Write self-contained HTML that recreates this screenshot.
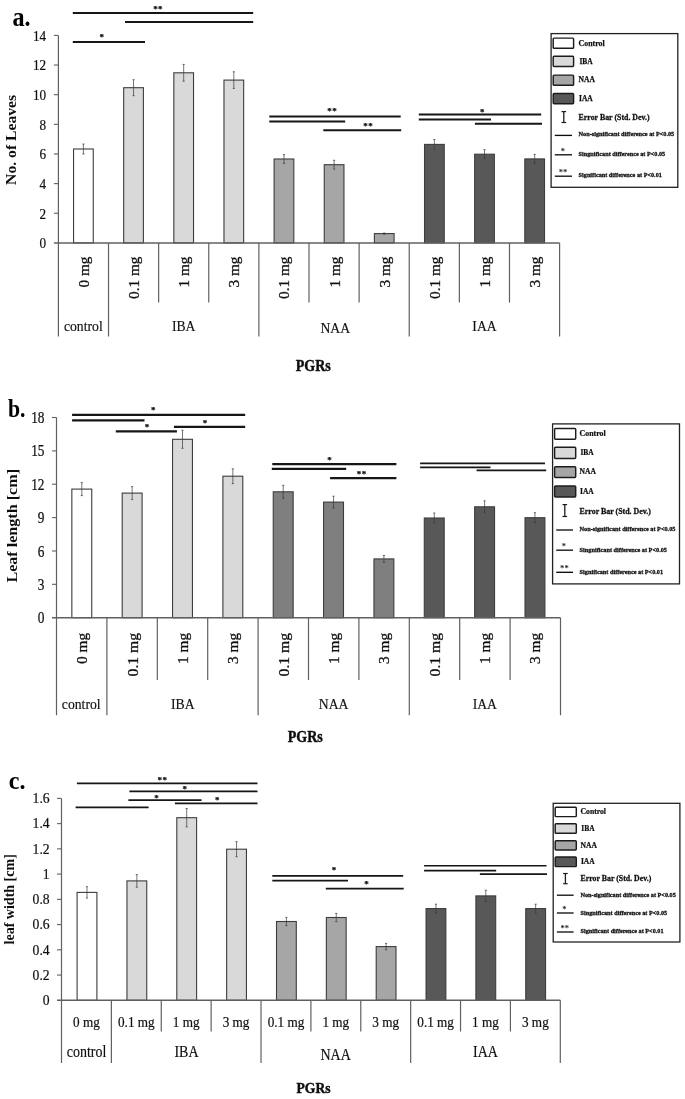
<!DOCTYPE html>
<html><head><meta charset="utf-8"><title>Figure</title>
<style>html,body{margin:0;padding:0;background:#fff}svg{display:block}text{font-family:'Liberation Serif', 'DejaVu Serif', serif}</style>
</head><body>
<svg width="685" height="1099" viewBox="0 0 685 1099">
<defs><filter id="soft" x="0" y="0" width="685" height="1099" filterUnits="userSpaceOnUse"><feGaussianBlur stdDeviation="0.38"/></filter></defs>
<rect x="0" y="0" width="685" height="1099" fill="#fff"/>
<g filter="url(#soft)">
<rect x="0" y="0" width="685" height="1099" fill="#fff"/>
<rect x="73.55" y="149.00" width="19.70" height="93.90" fill="#ffffff" stroke="#3c3c3c" stroke-width="1.1"/>
<line x1="83.40" y1="144.00" x2="83.40" y2="154.00" stroke="#3a3a3a" stroke-width="0.7" stroke-linecap="butt"/>
<line x1="82.30" y1="144.00" x2="84.50" y2="144.00" stroke="#3a3a3a" stroke-width="0.7" stroke-linecap="butt"/>
<line x1="82.30" y1="154.00" x2="84.50" y2="154.00" stroke="#3a3a3a" stroke-width="0.7" stroke-linecap="butt"/>
<rect x="123.69" y="87.70" width="19.70" height="155.20" fill="#d9d9d9" stroke="#3c3c3c" stroke-width="1.1"/>
<line x1="133.54" y1="79.70" x2="133.54" y2="95.70" stroke="#3a3a3a" stroke-width="0.7" stroke-linecap="butt"/>
<line x1="132.44" y1="79.70" x2="134.64" y2="79.70" stroke="#3a3a3a" stroke-width="0.7" stroke-linecap="butt"/>
<line x1="132.44" y1="95.70" x2="134.64" y2="95.70" stroke="#3a3a3a" stroke-width="0.7" stroke-linecap="butt"/>
<rect x="173.83" y="72.80" width="19.70" height="170.10" fill="#d9d9d9" stroke="#3c3c3c" stroke-width="1.1"/>
<line x1="183.68" y1="64.40" x2="183.68" y2="81.20" stroke="#3a3a3a" stroke-width="0.7" stroke-linecap="butt"/>
<line x1="182.58" y1="64.40" x2="184.78" y2="64.40" stroke="#3a3a3a" stroke-width="0.7" stroke-linecap="butt"/>
<line x1="182.58" y1="81.20" x2="184.78" y2="81.20" stroke="#3a3a3a" stroke-width="0.7" stroke-linecap="butt"/>
<rect x="223.97" y="80.10" width="19.70" height="162.80" fill="#d9d9d9" stroke="#3c3c3c" stroke-width="1.1"/>
<line x1="233.82" y1="71.80" x2="233.82" y2="88.40" stroke="#3a3a3a" stroke-width="0.7" stroke-linecap="butt"/>
<line x1="232.72" y1="71.80" x2="234.92" y2="71.80" stroke="#3a3a3a" stroke-width="0.7" stroke-linecap="butt"/>
<line x1="232.72" y1="88.40" x2="234.92" y2="88.40" stroke="#3a3a3a" stroke-width="0.7" stroke-linecap="butt"/>
<rect x="274.11" y="159.00" width="19.70" height="83.90" fill="#a6a6a6" stroke="#3c3c3c" stroke-width="1.1"/>
<line x1="283.96" y1="154.60" x2="283.96" y2="163.40" stroke="#3a3a3a" stroke-width="0.7" stroke-linecap="butt"/>
<line x1="282.86" y1="154.60" x2="285.06" y2="154.60" stroke="#3a3a3a" stroke-width="0.7" stroke-linecap="butt"/>
<line x1="282.86" y1="163.40" x2="285.06" y2="163.40" stroke="#3a3a3a" stroke-width="0.7" stroke-linecap="butt"/>
<rect x="324.25" y="164.70" width="19.70" height="78.20" fill="#a6a6a6" stroke="#3c3c3c" stroke-width="1.1"/>
<line x1="334.10" y1="160.30" x2="334.10" y2="169.10" stroke="#3a3a3a" stroke-width="0.7" stroke-linecap="butt"/>
<line x1="333.00" y1="160.30" x2="335.20" y2="160.30" stroke="#3a3a3a" stroke-width="0.7" stroke-linecap="butt"/>
<line x1="333.00" y1="169.10" x2="335.20" y2="169.10" stroke="#3a3a3a" stroke-width="0.7" stroke-linecap="butt"/>
<rect x="374.39" y="233.60" width="19.70" height="9.30" fill="#a6a6a6" stroke="#3c3c3c" stroke-width="1.1"/>
<line x1="384.24" y1="233.00" x2="384.24" y2="234.20" stroke="#3a3a3a" stroke-width="0.7" stroke-linecap="butt"/>
<line x1="383.14" y1="233.00" x2="385.34" y2="233.00" stroke="#3a3a3a" stroke-width="0.7" stroke-linecap="butt"/>
<line x1="383.14" y1="234.20" x2="385.34" y2="234.20" stroke="#3a3a3a" stroke-width="0.7" stroke-linecap="butt"/>
<rect x="424.53" y="144.40" width="19.70" height="98.50" fill="#595959" stroke="#3c3c3c" stroke-width="1.1"/>
<line x1="434.38" y1="139.50" x2="434.38" y2="149.30" stroke="#3a3a3a" stroke-width="0.7" stroke-linecap="butt"/>
<line x1="433.28" y1="139.50" x2="435.48" y2="139.50" stroke="#3a3a3a" stroke-width="0.7" stroke-linecap="butt"/>
<line x1="433.28" y1="149.30" x2="435.48" y2="149.30" stroke="#3a3a3a" stroke-width="0.7" stroke-linecap="butt"/>
<rect x="474.67" y="154.20" width="19.70" height="88.70" fill="#595959" stroke="#3c3c3c" stroke-width="1.1"/>
<line x1="484.52" y1="149.70" x2="484.52" y2="158.70" stroke="#3a3a3a" stroke-width="0.7" stroke-linecap="butt"/>
<line x1="483.42" y1="149.70" x2="485.62" y2="149.70" stroke="#3a3a3a" stroke-width="0.7" stroke-linecap="butt"/>
<line x1="483.42" y1="158.70" x2="485.62" y2="158.70" stroke="#3a3a3a" stroke-width="0.7" stroke-linecap="butt"/>
<rect x="524.81" y="158.90" width="19.70" height="84.00" fill="#595959" stroke="#3c3c3c" stroke-width="1.1"/>
<line x1="534.66" y1="154.40" x2="534.66" y2="163.40" stroke="#3a3a3a" stroke-width="0.7" stroke-linecap="butt"/>
<line x1="533.56" y1="154.40" x2="535.76" y2="154.40" stroke="#3a3a3a" stroke-width="0.7" stroke-linecap="butt"/>
<line x1="533.56" y1="163.40" x2="535.76" y2="163.40" stroke="#3a3a3a" stroke-width="0.7" stroke-linecap="butt"/>
<line x1="58.40" y1="35.40" x2="58.40" y2="336.50" stroke="#606060" stroke-width="1.2" stroke-linecap="butt"/>
<line x1="53.90" y1="242.90" x2="559.60" y2="242.90" stroke="#606060" stroke-width="1.5" stroke-linecap="butt"/>
<text transform="translate(46.10,248.20) scale(1,1.18)" font-size="13.2" text-anchor="end" fill="#111" stroke="#111" stroke-width="0.2">0</text>
<line x1="53.90" y1="213.26" x2="58.40" y2="213.26" stroke="#606060" stroke-width="1.1" stroke-linecap="butt"/>
<text transform="translate(46.10,218.56) scale(1,1.18)" font-size="13.2" text-anchor="end" fill="#111" stroke="#111" stroke-width="0.2">2</text>
<line x1="53.90" y1="183.61" x2="58.40" y2="183.61" stroke="#606060" stroke-width="1.1" stroke-linecap="butt"/>
<text transform="translate(46.10,188.91) scale(1,1.18)" font-size="13.2" text-anchor="end" fill="#111" stroke="#111" stroke-width="0.2">4</text>
<line x1="53.90" y1="153.97" x2="58.40" y2="153.97" stroke="#606060" stroke-width="1.1" stroke-linecap="butt"/>
<text transform="translate(46.10,159.27) scale(1,1.18)" font-size="13.2" text-anchor="end" fill="#111" stroke="#111" stroke-width="0.2">6</text>
<line x1="53.90" y1="124.33" x2="58.40" y2="124.33" stroke="#606060" stroke-width="1.1" stroke-linecap="butt"/>
<text transform="translate(46.10,129.63) scale(1,1.18)" font-size="13.2" text-anchor="end" fill="#111" stroke="#111" stroke-width="0.2">8</text>
<line x1="53.90" y1="94.69" x2="58.40" y2="94.69" stroke="#606060" stroke-width="1.1" stroke-linecap="butt"/>
<text transform="translate(46.10,99.99) scale(1,1.18)" font-size="13.2" text-anchor="end" fill="#111" stroke="#111" stroke-width="0.2">10</text>
<line x1="53.90" y1="65.04" x2="58.40" y2="65.04" stroke="#606060" stroke-width="1.1" stroke-linecap="butt"/>
<text transform="translate(46.10,70.34) scale(1,1.18)" font-size="13.2" text-anchor="end" fill="#111" stroke="#111" stroke-width="0.2">12</text>
<line x1="53.90" y1="35.40" x2="58.40" y2="35.40" stroke="#606060" stroke-width="1.1" stroke-linecap="butt"/>
<text transform="translate(46.10,40.70) scale(1,1.18)" font-size="13.2" text-anchor="end" fill="#111" stroke="#111" stroke-width="0.2">14</text>
<line x1="108.52" y1="242.90" x2="108.52" y2="336.50" stroke="#606060" stroke-width="1.2" stroke-linecap="butt"/>
<line x1="158.64" y1="242.90" x2="158.64" y2="302.60" stroke="#606060" stroke-width="1.2" stroke-linecap="butt"/>
<line x1="208.76" y1="242.90" x2="208.76" y2="302.60" stroke="#606060" stroke-width="1.2" stroke-linecap="butt"/>
<line x1="258.88" y1="242.90" x2="258.88" y2="336.50" stroke="#606060" stroke-width="1.2" stroke-linecap="butt"/>
<line x1="309.00" y1="242.90" x2="309.00" y2="302.60" stroke="#606060" stroke-width="1.2" stroke-linecap="butt"/>
<line x1="359.12" y1="242.90" x2="359.12" y2="302.60" stroke="#606060" stroke-width="1.2" stroke-linecap="butt"/>
<line x1="409.24" y1="242.90" x2="409.24" y2="336.50" stroke="#606060" stroke-width="1.2" stroke-linecap="butt"/>
<line x1="459.36" y1="242.90" x2="459.36" y2="302.60" stroke="#606060" stroke-width="1.2" stroke-linecap="butt"/>
<line x1="509.48" y1="242.90" x2="509.48" y2="302.60" stroke="#606060" stroke-width="1.2" stroke-linecap="butt"/>
<line x1="559.60" y1="242.90" x2="559.60" y2="336.50" stroke="#606060" stroke-width="1.2" stroke-linecap="butt"/>
<text transform="translate(88.90,256.60) rotate(-90)" font-size="14" text-anchor="end" textLength="30.90" lengthAdjust="spacingAndGlyphs" fill="#111" stroke="#111" stroke-width="0.3">0 mg</text>
<text transform="translate(139.04,256.60) rotate(-90)" font-size="14" text-anchor="end" textLength="42.40" lengthAdjust="spacingAndGlyphs" fill="#111" stroke="#111" stroke-width="0.3">0.1 mg</text>
<text transform="translate(189.18,256.60) rotate(-90)" font-size="14" text-anchor="end" textLength="30.90" lengthAdjust="spacingAndGlyphs" fill="#111" stroke="#111" stroke-width="0.3">1 mg</text>
<text transform="translate(239.32,256.60) rotate(-90)" font-size="14" text-anchor="end" textLength="30.90" lengthAdjust="spacingAndGlyphs" fill="#111" stroke="#111" stroke-width="0.3">3 mg</text>
<text transform="translate(289.46,256.60) rotate(-90)" font-size="14" text-anchor="end" textLength="42.40" lengthAdjust="spacingAndGlyphs" fill="#111" stroke="#111" stroke-width="0.3">0.1 mg</text>
<text transform="translate(339.60,256.60) rotate(-90)" font-size="14" text-anchor="end" textLength="30.90" lengthAdjust="spacingAndGlyphs" fill="#111" stroke="#111" stroke-width="0.3">1 mg</text>
<text transform="translate(389.74,256.60) rotate(-90)" font-size="14" text-anchor="end" textLength="30.90" lengthAdjust="spacingAndGlyphs" fill="#111" stroke="#111" stroke-width="0.3">3 mg</text>
<text transform="translate(439.88,256.60) rotate(-90)" font-size="14" text-anchor="end" textLength="42.40" lengthAdjust="spacingAndGlyphs" fill="#111" stroke="#111" stroke-width="0.3">0.1 mg</text>
<text transform="translate(490.02,256.60) rotate(-90)" font-size="14" text-anchor="end" textLength="30.90" lengthAdjust="spacingAndGlyphs" fill="#111" stroke="#111" stroke-width="0.3">1 mg</text>
<text transform="translate(540.16,256.60) rotate(-90)" font-size="14" text-anchor="end" textLength="30.90" lengthAdjust="spacingAndGlyphs" fill="#111" stroke="#111" stroke-width="0.3">3 mg</text>
<text transform="translate(83.30,331.00) scale(1,1.12)" font-size="13.7" text-anchor="middle" fill="#111" stroke="#111" stroke-width="0.15">control</text>
<text transform="translate(183.70,331.00) scale(1,1.12)" font-size="13.7" text-anchor="middle" fill="#111" stroke="#111" stroke-width="0.15">IBA</text>
<text transform="translate(335.20,333.30) scale(1,1.12)" font-size="13.7" text-anchor="middle" fill="#111" stroke="#111" stroke-width="0.15">NAA</text>
<text transform="translate(484.50,330.80) scale(1,1.12)" font-size="13.7" text-anchor="middle" fill="#111" stroke="#111" stroke-width="0.15">IAA</text>
<text transform="translate(313.30,370.70) scale(1,1.15)" font-size="14" text-anchor="middle" font-weight="bold" fill="#111" stroke="#111" stroke-width="0.4">PGRs</text>
<text transform="translate(15.80,139.90) rotate(-90)" font-size="15" text-anchor="middle" font-weight="bold" textLength="90.00" lengthAdjust="spacingAndGlyphs" fill="#111">No. of Leaves</text>
<text transform="translate(12.40,26.20) scale(1,1.11)" font-size="24.2" text-anchor="start" font-weight="bold" fill="#000">a.</text>
<line x1="72.80" y1="13.10" x2="253.20" y2="13.10" stroke="#141414" stroke-width="2.0" stroke-linecap="butt"/>
<line x1="125.00" y1="21.90" x2="253.20" y2="21.90" stroke="#141414" stroke-width="2.0" stroke-linecap="butt"/>
<line x1="72.80" y1="42.00" x2="145.00" y2="42.00" stroke="#141414" stroke-width="2.0" stroke-linecap="butt"/>
<line x1="269.30" y1="116.40" x2="400.70" y2="116.40" stroke="#141414" stroke-width="2.0" stroke-linecap="butt"/>
<line x1="269.30" y1="121.50" x2="345.20" y2="121.50" stroke="#141414" stroke-width="2.0" stroke-linecap="butt"/>
<line x1="323.30" y1="130.30" x2="401.20" y2="130.30" stroke="#141414" stroke-width="2.0" stroke-linecap="butt"/>
<line x1="418.80" y1="114.60" x2="541.20" y2="114.60" stroke="#141414" stroke-width="2.0" stroke-linecap="butt"/>
<line x1="418.80" y1="119.60" x2="491.00" y2="119.60" stroke="#141414" stroke-width="2.0" stroke-linecap="butt"/>
<line x1="474.90" y1="123.70" x2="542.00" y2="123.70" stroke="#141414" stroke-width="2.0" stroke-linecap="butt"/>
<text transform="translate(158.10,12.40)" font-size="9" text-anchor="middle" font-weight="bold" fill="#111" letter-spacing="0.4" stroke="#111" stroke-width="0.25">**</text>
<text transform="translate(102.00,39.60)" font-size="9" text-anchor="middle" font-weight="bold" fill="#111" letter-spacing="0.4" stroke="#111" stroke-width="0.25">*</text>
<text transform="translate(332.20,114.10)" font-size="9" text-anchor="middle" font-weight="bold" fill="#111" letter-spacing="0.4" stroke="#111" stroke-width="0.25">**</text>
<text transform="translate(368.20,128.80)" font-size="9" text-anchor="middle" font-weight="bold" fill="#111" letter-spacing="0.4" stroke="#111" stroke-width="0.25">**</text>
<text transform="translate(482.40,114.60)" font-size="9" text-anchor="middle" font-weight="bold" fill="#111" letter-spacing="0.4" stroke="#111" stroke-width="0.25">*</text>
<rect x="551.10" y="33.60" width="126.70" height="153.70" fill="#fff" stroke="#222" stroke-width="1.3"/>
<rect x="553.20" y="38.10" width="20.40" height="10.20" rx="0.9" fill="#ffffff" stroke="#1c1c1c" stroke-width="1.45"/>
<text transform="translate(578.60,45.80)" font-size="8.9" text-anchor="start" font-weight="bold" textLength="26.00" lengthAdjust="spacingAndGlyphs" fill="#111" stroke="#111" stroke-width="0.25">Control</text>
<rect x="553.20" y="56.30" width="20.40" height="10.20" rx="0.9" fill="#d9d9d9" stroke="#1c1c1c" stroke-width="1.45"/>
<text transform="translate(579.40,63.80)" font-size="8.9" text-anchor="start" font-weight="bold" textLength="13.30" lengthAdjust="spacingAndGlyphs" fill="#111" stroke="#111" stroke-width="0.25">IBA</text>
<rect x="553.20" y="75.10" width="20.40" height="10.20" rx="0.9" fill="#a6a6a6" stroke="#1c1c1c" stroke-width="1.45"/>
<text transform="translate(578.60,82.40)" font-size="8.9" text-anchor="start" font-weight="bold" textLength="16.40" lengthAdjust="spacingAndGlyphs" fill="#111" stroke="#111" stroke-width="0.25">NAA</text>
<rect x="553.20" y="93.50" width="20.40" height="10.20" rx="0.9" fill="#595959" stroke="#1c1c1c" stroke-width="1.45"/>
<text transform="translate(579.00,101.00)" font-size="8.9" text-anchor="start" font-weight="bold" textLength="13.80" lengthAdjust="spacingAndGlyphs" fill="#111" stroke="#111" stroke-width="0.25">IAA</text>
<line x1="563.80" y1="111.60" x2="563.80" y2="122.50" stroke="#1a1a1a" stroke-width="1.3" stroke-linecap="butt"/>
<line x1="561.50" y1="111.60" x2="566.10" y2="111.60" stroke="#1a1a1a" stroke-width="1.2" stroke-linecap="butt"/>
<line x1="561.50" y1="122.50" x2="566.10" y2="122.50" stroke="#1a1a1a" stroke-width="1.2" stroke-linecap="butt"/>
<text transform="translate(578.60,120.00)" font-size="9.200000000000001" text-anchor="start" font-weight="bold" textLength="71.00" lengthAdjust="spacingAndGlyphs" fill="#111" stroke="#111" stroke-width="0.3">Error Bar (Std. Dev.)</text>
<line x1="554.80" y1="135.40" x2="572.00" y2="135.40" stroke="#111" stroke-width="1.35" stroke-linecap="butt"/>
<text transform="translate(578.60,136.20)" font-size="7.0" text-anchor="start" font-weight="bold" textLength="95.60" lengthAdjust="spacingAndGlyphs" fill="#111" stroke="#111" stroke-width="0.3">Non-significant difference at P&lt;0.05</text>
<line x1="554.80" y1="154.80" x2="572.00" y2="154.80" stroke="#111" stroke-width="1.35" stroke-linecap="butt"/>
<text transform="translate(578.60,156.40)" font-size="7.0" text-anchor="start" font-weight="bold" textLength="86.60" lengthAdjust="spacingAndGlyphs" fill="#111" stroke="#111" stroke-width="0.3">Singnificant difference at P&lt;0.05</text>
<line x1="554.80" y1="176.20" x2="572.00" y2="176.20" stroke="#111" stroke-width="1.35" stroke-linecap="butt"/>
<text transform="translate(578.60,177.10)" font-size="7.0" text-anchor="start" font-weight="bold" textLength="83.30" lengthAdjust="spacingAndGlyphs" fill="#111" stroke="#111" stroke-width="0.3">Significant difference at P&lt;0.01</text>
<text transform="translate(562.80,154.00)" font-size="8.6" text-anchor="middle" font-weight="bold" fill="#222">*</text>
<text transform="translate(563.00,175.40)" font-size="8.6" text-anchor="middle" font-weight="bold" fill="#222">**</text>
<rect x="71.85" y="489.10" width="19.90" height="128.60" fill="#ffffff" stroke="#3c3c3c" stroke-width="1.1"/>
<line x1="81.80" y1="482.60" x2="81.80" y2="495.60" stroke="#3a3a3a" stroke-width="0.7" stroke-linecap="butt"/>
<line x1="80.70" y1="482.60" x2="82.90" y2="482.60" stroke="#3a3a3a" stroke-width="0.7" stroke-linecap="butt"/>
<line x1="80.70" y1="495.60" x2="82.90" y2="495.60" stroke="#3a3a3a" stroke-width="0.7" stroke-linecap="butt"/>
<rect x="122.20" y="493.10" width="19.90" height="124.60" fill="#d9d9d9" stroke="#3c3c3c" stroke-width="1.1"/>
<line x1="132.15" y1="486.60" x2="132.15" y2="499.60" stroke="#3a3a3a" stroke-width="0.7" stroke-linecap="butt"/>
<line x1="131.05" y1="486.60" x2="133.25" y2="486.60" stroke="#3a3a3a" stroke-width="0.7" stroke-linecap="butt"/>
<line x1="131.05" y1="499.60" x2="133.25" y2="499.60" stroke="#3a3a3a" stroke-width="0.7" stroke-linecap="butt"/>
<rect x="172.55" y="439.30" width="19.90" height="178.40" fill="#d9d9d9" stroke="#3c3c3c" stroke-width="1.1"/>
<line x1="182.50" y1="430.30" x2="182.50" y2="448.30" stroke="#3a3a3a" stroke-width="0.7" stroke-linecap="butt"/>
<line x1="181.40" y1="430.30" x2="183.60" y2="430.30" stroke="#3a3a3a" stroke-width="0.7" stroke-linecap="butt"/>
<line x1="181.40" y1="448.30" x2="183.60" y2="448.30" stroke="#3a3a3a" stroke-width="0.7" stroke-linecap="butt"/>
<rect x="222.90" y="476.20" width="19.90" height="141.50" fill="#d9d9d9" stroke="#3c3c3c" stroke-width="1.1"/>
<line x1="232.85" y1="468.80" x2="232.85" y2="483.60" stroke="#3a3a3a" stroke-width="0.7" stroke-linecap="butt"/>
<line x1="231.75" y1="468.80" x2="233.95" y2="468.80" stroke="#3a3a3a" stroke-width="0.7" stroke-linecap="butt"/>
<line x1="231.75" y1="483.60" x2="233.95" y2="483.60" stroke="#3a3a3a" stroke-width="0.7" stroke-linecap="butt"/>
<rect x="273.25" y="491.80" width="19.90" height="125.90" fill="#7f7f7f" stroke="#3c3c3c" stroke-width="1.1"/>
<line x1="283.20" y1="485.30" x2="283.20" y2="498.30" stroke="#3a3a3a" stroke-width="0.7" stroke-linecap="butt"/>
<line x1="282.10" y1="485.30" x2="284.30" y2="485.30" stroke="#3a3a3a" stroke-width="0.7" stroke-linecap="butt"/>
<line x1="282.10" y1="498.30" x2="284.30" y2="498.30" stroke="#3a3a3a" stroke-width="0.7" stroke-linecap="butt"/>
<rect x="323.60" y="502.10" width="19.90" height="115.60" fill="#7f7f7f" stroke="#3c3c3c" stroke-width="1.1"/>
<line x1="333.55" y1="496.20" x2="333.55" y2="508.00" stroke="#3a3a3a" stroke-width="0.7" stroke-linecap="butt"/>
<line x1="332.45" y1="496.20" x2="334.65" y2="496.20" stroke="#3a3a3a" stroke-width="0.7" stroke-linecap="butt"/>
<line x1="332.45" y1="508.00" x2="334.65" y2="508.00" stroke="#3a3a3a" stroke-width="0.7" stroke-linecap="butt"/>
<rect x="373.95" y="558.90" width="19.90" height="58.80" fill="#7f7f7f" stroke="#3c3c3c" stroke-width="1.1"/>
<line x1="383.90" y1="555.50" x2="383.90" y2="562.30" stroke="#3a3a3a" stroke-width="0.7" stroke-linecap="butt"/>
<line x1="382.80" y1="555.50" x2="385.00" y2="555.50" stroke="#3a3a3a" stroke-width="0.7" stroke-linecap="butt"/>
<line x1="382.80" y1="562.30" x2="385.00" y2="562.30" stroke="#3a3a3a" stroke-width="0.7" stroke-linecap="butt"/>
<rect x="424.30" y="518.00" width="19.90" height="99.70" fill="#595959" stroke="#3c3c3c" stroke-width="1.1"/>
<line x1="434.25" y1="513.00" x2="434.25" y2="523.00" stroke="#3a3a3a" stroke-width="0.7" stroke-linecap="butt"/>
<line x1="433.15" y1="513.00" x2="435.35" y2="513.00" stroke="#3a3a3a" stroke-width="0.7" stroke-linecap="butt"/>
<line x1="433.15" y1="523.00" x2="435.35" y2="523.00" stroke="#3a3a3a" stroke-width="0.7" stroke-linecap="butt"/>
<rect x="474.65" y="506.80" width="19.90" height="110.90" fill="#595959" stroke="#3c3c3c" stroke-width="1.1"/>
<line x1="484.60" y1="500.80" x2="484.60" y2="512.80" stroke="#3a3a3a" stroke-width="0.7" stroke-linecap="butt"/>
<line x1="483.50" y1="500.80" x2="485.70" y2="500.80" stroke="#3a3a3a" stroke-width="0.7" stroke-linecap="butt"/>
<line x1="483.50" y1="512.80" x2="485.70" y2="512.80" stroke="#3a3a3a" stroke-width="0.7" stroke-linecap="butt"/>
<rect x="525.00" y="517.70" width="19.90" height="100.00" fill="#595959" stroke="#3c3c3c" stroke-width="1.1"/>
<line x1="534.95" y1="512.70" x2="534.95" y2="522.70" stroke="#3a3a3a" stroke-width="0.7" stroke-linecap="butt"/>
<line x1="533.85" y1="512.70" x2="536.05" y2="512.70" stroke="#3a3a3a" stroke-width="0.7" stroke-linecap="butt"/>
<line x1="533.85" y1="522.70" x2="536.05" y2="522.70" stroke="#3a3a3a" stroke-width="0.7" stroke-linecap="butt"/>
<line x1="56.50" y1="417.50" x2="56.50" y2="715.30" stroke="#606060" stroke-width="1.2" stroke-linecap="butt"/>
<line x1="52.00" y1="617.70" x2="560.50" y2="617.70" stroke="#606060" stroke-width="1.5" stroke-linecap="butt"/>
<text transform="translate(44.50,623.30) scale(1,1.2)" font-size="13.3" text-anchor="end" fill="#111" stroke="#111" stroke-width="0.2">0</text>
<line x1="52.00" y1="584.33" x2="56.50" y2="584.33" stroke="#606060" stroke-width="1.1" stroke-linecap="butt"/>
<text transform="translate(44.50,589.93) scale(1,1.2)" font-size="13.3" text-anchor="end" fill="#111" stroke="#111" stroke-width="0.2">3</text>
<line x1="52.00" y1="550.97" x2="56.50" y2="550.97" stroke="#606060" stroke-width="1.1" stroke-linecap="butt"/>
<text transform="translate(44.50,556.57) scale(1,1.2)" font-size="13.3" text-anchor="end" fill="#111" stroke="#111" stroke-width="0.2">6</text>
<line x1="52.00" y1="517.60" x2="56.50" y2="517.60" stroke="#606060" stroke-width="1.1" stroke-linecap="butt"/>
<text transform="translate(44.50,523.20) scale(1,1.2)" font-size="13.3" text-anchor="end" fill="#111" stroke="#111" stroke-width="0.2">9</text>
<line x1="52.00" y1="484.23" x2="56.50" y2="484.23" stroke="#606060" stroke-width="1.1" stroke-linecap="butt"/>
<text transform="translate(44.50,489.83) scale(1,1.2)" font-size="13.3" text-anchor="end" fill="#111" stroke="#111" stroke-width="0.2">12</text>
<line x1="52.00" y1="450.87" x2="56.50" y2="450.87" stroke="#606060" stroke-width="1.1" stroke-linecap="butt"/>
<text transform="translate(44.50,456.47) scale(1,1.2)" font-size="13.3" text-anchor="end" fill="#111" stroke="#111" stroke-width="0.2">15</text>
<line x1="52.00" y1="417.50" x2="56.50" y2="417.50" stroke="#606060" stroke-width="1.1" stroke-linecap="butt"/>
<text transform="translate(44.50,423.10) scale(1,1.2)" font-size="13.3" text-anchor="end" fill="#111" stroke="#111" stroke-width="0.2">18</text>
<line x1="106.90" y1="617.70" x2="106.90" y2="715.30" stroke="#606060" stroke-width="1.2" stroke-linecap="butt"/>
<line x1="157.30" y1="617.70" x2="157.30" y2="680.10" stroke="#606060" stroke-width="1.2" stroke-linecap="butt"/>
<line x1="207.70" y1="617.70" x2="207.70" y2="680.10" stroke="#606060" stroke-width="1.2" stroke-linecap="butt"/>
<line x1="258.10" y1="617.70" x2="258.10" y2="715.30" stroke="#606060" stroke-width="1.2" stroke-linecap="butt"/>
<line x1="308.50" y1="617.70" x2="308.50" y2="680.10" stroke="#606060" stroke-width="1.2" stroke-linecap="butt"/>
<line x1="358.90" y1="617.70" x2="358.90" y2="680.10" stroke="#606060" stroke-width="1.2" stroke-linecap="butt"/>
<line x1="409.30" y1="617.70" x2="409.30" y2="715.30" stroke="#606060" stroke-width="1.2" stroke-linecap="butt"/>
<line x1="459.70" y1="617.70" x2="459.70" y2="680.10" stroke="#606060" stroke-width="1.2" stroke-linecap="butt"/>
<line x1="510.10" y1="617.70" x2="510.10" y2="680.10" stroke="#606060" stroke-width="1.2" stroke-linecap="butt"/>
<line x1="560.50" y1="617.70" x2="560.50" y2="715.30" stroke="#606060" stroke-width="1.2" stroke-linecap="butt"/>
<text transform="translate(87.30,632.90) rotate(-90)" font-size="14" text-anchor="end" textLength="31.00" lengthAdjust="spacingAndGlyphs" fill="#111" stroke="#111" stroke-width="0.3">0 mg</text>
<text transform="translate(137.65,632.90) rotate(-90)" font-size="14" text-anchor="end" textLength="43.50" lengthAdjust="spacingAndGlyphs" fill="#111" stroke="#111" stroke-width="0.3">0.1 mg</text>
<text transform="translate(188.00,632.90) rotate(-90)" font-size="14" text-anchor="end" textLength="31.00" lengthAdjust="spacingAndGlyphs" fill="#111" stroke="#111" stroke-width="0.3">1 mg</text>
<text transform="translate(238.35,632.90) rotate(-90)" font-size="14" text-anchor="end" textLength="31.00" lengthAdjust="spacingAndGlyphs" fill="#111" stroke="#111" stroke-width="0.3">3 mg</text>
<text transform="translate(288.70,632.90) rotate(-90)" font-size="14" text-anchor="end" textLength="43.50" lengthAdjust="spacingAndGlyphs" fill="#111" stroke="#111" stroke-width="0.3">0.1 mg</text>
<text transform="translate(339.05,632.90) rotate(-90)" font-size="14" text-anchor="end" textLength="31.00" lengthAdjust="spacingAndGlyphs" fill="#111" stroke="#111" stroke-width="0.3">1 mg</text>
<text transform="translate(389.40,632.90) rotate(-90)" font-size="14" text-anchor="end" textLength="31.00" lengthAdjust="spacingAndGlyphs" fill="#111" stroke="#111" stroke-width="0.3">3 mg</text>
<text transform="translate(439.75,632.90) rotate(-90)" font-size="14" text-anchor="end" textLength="43.50" lengthAdjust="spacingAndGlyphs" fill="#111" stroke="#111" stroke-width="0.3">0.1 mg</text>
<text transform="translate(490.10,632.90) rotate(-90)" font-size="14" text-anchor="end" textLength="31.00" lengthAdjust="spacingAndGlyphs" fill="#111" stroke="#111" stroke-width="0.3">1 mg</text>
<text transform="translate(540.45,632.90) rotate(-90)" font-size="14" text-anchor="end" textLength="31.00" lengthAdjust="spacingAndGlyphs" fill="#111" stroke="#111" stroke-width="0.3">3 mg</text>
<text transform="translate(81.20,709.30) scale(1,1.08)" font-size="13.7" text-anchor="middle" fill="#111" stroke="#111" stroke-width="0.15">control</text>
<text transform="translate(182.80,709.30) scale(1,1.08)" font-size="13.7" text-anchor="middle" fill="#111" stroke="#111" stroke-width="0.15">IBA</text>
<text transform="translate(333.60,709.30) scale(1,1.08)" font-size="13.7" text-anchor="middle" fill="#111" stroke="#111" stroke-width="0.15">NAA</text>
<text transform="translate(484.80,709.30) scale(1,1.08)" font-size="13.7" text-anchor="middle" fill="#111" stroke="#111" stroke-width="0.15">IAA</text>
<text transform="translate(305.20,742.30) scale(1,1.15)" font-size="14" text-anchor="middle" font-weight="bold" fill="#111" stroke="#111" stroke-width="0.4">PGRs</text>
<text transform="translate(17.00,525.80) rotate(-90)" font-size="15" text-anchor="middle" font-weight="bold" textLength="113.60" lengthAdjust="spacingAndGlyphs" fill="#111">Leaf length [cm]</text>
<text transform="translate(8.00,417.20) scale(1,1.2)" font-size="21.8" text-anchor="start" font-weight="bold" fill="#000">b.</text>
<line x1="72.10" y1="414.80" x2="245.20" y2="414.80" stroke="#141414" stroke-width="2.2" stroke-linecap="butt"/>
<line x1="72.10" y1="420.40" x2="144.50" y2="420.40" stroke="#141414" stroke-width="2.2" stroke-linecap="butt"/>
<line x1="115.80" y1="431.40" x2="176.90" y2="431.40" stroke="#141414" stroke-width="2.2" stroke-linecap="butt"/>
<line x1="173.90" y1="426.90" x2="245.20" y2="426.90" stroke="#141414" stroke-width="2.2" stroke-linecap="butt"/>
<line x1="272.30" y1="464.10" x2="396.40" y2="464.10" stroke="#141414" stroke-width="2.2" stroke-linecap="butt"/>
<line x1="271.80" y1="468.90" x2="346.20" y2="468.90" stroke="#141414" stroke-width="2.2" stroke-linecap="butt"/>
<line x1="330.10" y1="478.20" x2="396.40" y2="478.20" stroke="#141414" stroke-width="2.2" stroke-linecap="butt"/>
<line x1="420.10" y1="463.40" x2="545.00" y2="463.40" stroke="#141414" stroke-width="1.8" stroke-linecap="butt"/>
<line x1="420.10" y1="467.40" x2="490.50" y2="467.40" stroke="#141414" stroke-width="1.8" stroke-linecap="butt"/>
<line x1="476.60" y1="470.40" x2="546.20" y2="470.40" stroke="#141414" stroke-width="1.8" stroke-linecap="butt"/>
<text transform="translate(153.50,412.60)" font-size="9" text-anchor="middle" font-weight="bold" fill="#111" letter-spacing="0.4" stroke="#111" stroke-width="0.25">*</text>
<text transform="translate(147.20,430.20)" font-size="9" text-anchor="middle" font-weight="bold" fill="#111" letter-spacing="0.4" stroke="#111" stroke-width="0.25">*</text>
<text transform="translate(205.20,425.50)" font-size="9" text-anchor="middle" font-weight="bold" fill="#111" letter-spacing="0.4" stroke="#111" stroke-width="0.25">*</text>
<text transform="translate(329.80,463.40)" font-size="9" text-anchor="middle" font-weight="bold" fill="#111" letter-spacing="0.4" stroke="#111" stroke-width="0.25">*</text>
<text transform="translate(361.70,477.30)" font-size="9" text-anchor="middle" font-weight="bold" fill="#111" letter-spacing="0.4" stroke="#111" stroke-width="0.25">**</text>
<rect x="552.60" y="423.90" width="126.90" height="160.00" fill="#fff" stroke="#222" stroke-width="1.3"/>
<rect x="554.60" y="428.40" width="21.10" height="10.80" rx="0.9" fill="#ffffff" stroke="#1c1c1c" stroke-width="1.45"/>
<text transform="translate(579.60,436.20) scale(1,0.93)" font-size="8.9" text-anchor="start" font-weight="bold" textLength="26.00" lengthAdjust="spacingAndGlyphs" fill="#111" stroke="#111" stroke-width="0.25">Control</text>
<rect x="554.60" y="447.20" width="21.10" height="11.20" rx="0.9" fill="#d9d9d9" stroke="#1c1c1c" stroke-width="1.45"/>
<text transform="translate(580.40,454.60) scale(1,0.93)" font-size="8.9" text-anchor="start" font-weight="bold" textLength="13.30" lengthAdjust="spacingAndGlyphs" fill="#111" stroke="#111" stroke-width="0.25">IBA</text>
<rect x="554.60" y="466.80" width="21.10" height="10.60" rx="0.9" fill="#a6a6a6" stroke="#1c1c1c" stroke-width="1.45"/>
<text transform="translate(579.60,474.40) scale(1,0.93)" font-size="8.9" text-anchor="start" font-weight="bold" textLength="16.40" lengthAdjust="spacingAndGlyphs" fill="#111" stroke="#111" stroke-width="0.25">NAA</text>
<rect x="554.60" y="486.00" width="21.10" height="10.90" rx="0.9" fill="#595959" stroke="#1c1c1c" stroke-width="1.45"/>
<text transform="translate(580.00,493.80) scale(1,0.93)" font-size="8.9" text-anchor="start" font-weight="bold" textLength="13.80" lengthAdjust="spacingAndGlyphs" fill="#111" stroke="#111" stroke-width="0.25">IAA</text>
<line x1="564.80" y1="504.60" x2="564.80" y2="516.50" stroke="#1a1a1a" stroke-width="1.3" stroke-linecap="butt"/>
<line x1="562.50" y1="504.60" x2="567.10" y2="504.60" stroke="#1a1a1a" stroke-width="1.2" stroke-linecap="butt"/>
<line x1="562.50" y1="516.50" x2="567.10" y2="516.50" stroke="#1a1a1a" stroke-width="1.2" stroke-linecap="butt"/>
<text transform="translate(579.60,513.70) scale(1,0.93)" font-size="9.200000000000001" text-anchor="start" font-weight="bold" textLength="71.30" lengthAdjust="spacingAndGlyphs" fill="#111" stroke="#111" stroke-width="0.3">Error Bar (Std. Dev.)</text>
<line x1="556.20" y1="530.00" x2="573.00" y2="530.00" stroke="#111" stroke-width="1.35" stroke-linecap="butt"/>
<text transform="translate(579.60,531.20)" font-size="7.0" text-anchor="start" font-weight="bold" textLength="95.80" lengthAdjust="spacingAndGlyphs" fill="#111" stroke="#111" stroke-width="0.3">Non-significant difference at P&lt;0.05</text>
<line x1="556.20" y1="550.20" x2="573.00" y2="550.20" stroke="#111" stroke-width="1.35" stroke-linecap="butt"/>
<text transform="translate(579.60,552.20)" font-size="7.0" text-anchor="start" font-weight="bold" textLength="87.40" lengthAdjust="spacingAndGlyphs" fill="#111" stroke="#111" stroke-width="0.3">Singnificant difference at P&lt;0.05</text>
<line x1="556.20" y1="572.30" x2="573.00" y2="572.30" stroke="#111" stroke-width="1.35" stroke-linecap="butt"/>
<text transform="translate(579.60,573.60)" font-size="7.0" text-anchor="start" font-weight="bold" textLength="83.50" lengthAdjust="spacingAndGlyphs" fill="#111" stroke="#111" stroke-width="0.3">Significant difference at P&lt;0.01</text>
<text transform="translate(563.80,548.50)" font-size="8.6" text-anchor="middle" font-weight="bold" fill="#222">*</text>
<text transform="translate(564.40,571.00)" font-size="8.6" text-anchor="middle" font-weight="bold" fill="#222">**</text>
<rect x="77.10" y="892.40" width="19.80" height="107.90" fill="#ffffff" stroke="#3c3c3c" stroke-width="1.1"/>
<line x1="87.00" y1="886.70" x2="87.00" y2="898.10" stroke="#3a3a3a" stroke-width="0.7" stroke-linecap="butt"/>
<line x1="85.90" y1="886.70" x2="88.10" y2="886.70" stroke="#3a3a3a" stroke-width="0.7" stroke-linecap="butt"/>
<line x1="85.90" y1="898.10" x2="88.10" y2="898.10" stroke="#3a3a3a" stroke-width="0.7" stroke-linecap="butt"/>
<rect x="126.95" y="880.90" width="19.80" height="119.40" fill="#d9d9d9" stroke="#3c3c3c" stroke-width="1.1"/>
<line x1="136.85" y1="874.60" x2="136.85" y2="887.20" stroke="#3a3a3a" stroke-width="0.7" stroke-linecap="butt"/>
<line x1="135.75" y1="874.60" x2="137.95" y2="874.60" stroke="#3a3a3a" stroke-width="0.7" stroke-linecap="butt"/>
<line x1="135.75" y1="887.20" x2="137.95" y2="887.20" stroke="#3a3a3a" stroke-width="0.7" stroke-linecap="butt"/>
<rect x="176.80" y="817.70" width="19.80" height="182.60" fill="#d9d9d9" stroke="#3c3c3c" stroke-width="1.1"/>
<line x1="186.70" y1="808.50" x2="186.70" y2="826.90" stroke="#3a3a3a" stroke-width="0.7" stroke-linecap="butt"/>
<line x1="185.60" y1="808.50" x2="187.80" y2="808.50" stroke="#3a3a3a" stroke-width="0.7" stroke-linecap="butt"/>
<line x1="185.60" y1="826.90" x2="187.80" y2="826.90" stroke="#3a3a3a" stroke-width="0.7" stroke-linecap="butt"/>
<rect x="226.65" y="849.20" width="19.80" height="151.10" fill="#d9d9d9" stroke="#3c3c3c" stroke-width="1.1"/>
<line x1="236.55" y1="841.70" x2="236.55" y2="856.70" stroke="#3a3a3a" stroke-width="0.7" stroke-linecap="butt"/>
<line x1="235.45" y1="841.70" x2="237.65" y2="841.70" stroke="#3a3a3a" stroke-width="0.7" stroke-linecap="butt"/>
<line x1="235.45" y1="856.70" x2="237.65" y2="856.70" stroke="#3a3a3a" stroke-width="0.7" stroke-linecap="butt"/>
<rect x="276.50" y="921.50" width="19.80" height="78.80" fill="#a6a6a6" stroke="#3c3c3c" stroke-width="1.1"/>
<line x1="286.40" y1="917.40" x2="286.40" y2="925.60" stroke="#3a3a3a" stroke-width="0.7" stroke-linecap="butt"/>
<line x1="285.30" y1="917.40" x2="287.50" y2="917.40" stroke="#3a3a3a" stroke-width="0.7" stroke-linecap="butt"/>
<line x1="285.30" y1="925.60" x2="287.50" y2="925.60" stroke="#3a3a3a" stroke-width="0.7" stroke-linecap="butt"/>
<rect x="326.35" y="917.50" width="19.80" height="82.80" fill="#a6a6a6" stroke="#3c3c3c" stroke-width="1.1"/>
<line x1="336.25" y1="913.40" x2="336.25" y2="921.60" stroke="#3a3a3a" stroke-width="0.7" stroke-linecap="butt"/>
<line x1="335.15" y1="913.40" x2="337.35" y2="913.40" stroke="#3a3a3a" stroke-width="0.7" stroke-linecap="butt"/>
<line x1="335.15" y1="921.60" x2="337.35" y2="921.60" stroke="#3a3a3a" stroke-width="0.7" stroke-linecap="butt"/>
<rect x="376.20" y="946.60" width="19.80" height="53.70" fill="#a6a6a6" stroke="#3c3c3c" stroke-width="1.1"/>
<line x1="386.10" y1="943.40" x2="386.10" y2="949.80" stroke="#3a3a3a" stroke-width="0.7" stroke-linecap="butt"/>
<line x1="385.00" y1="943.40" x2="387.20" y2="943.40" stroke="#3a3a3a" stroke-width="0.7" stroke-linecap="butt"/>
<line x1="385.00" y1="949.80" x2="387.20" y2="949.80" stroke="#3a3a3a" stroke-width="0.7" stroke-linecap="butt"/>
<rect x="426.05" y="908.60" width="19.80" height="91.70" fill="#595959" stroke="#3c3c3c" stroke-width="1.1"/>
<line x1="435.95" y1="904.20" x2="435.95" y2="913.00" stroke="#3a3a3a" stroke-width="0.7" stroke-linecap="butt"/>
<line x1="434.85" y1="904.20" x2="437.05" y2="904.20" stroke="#3a3a3a" stroke-width="0.7" stroke-linecap="butt"/>
<line x1="434.85" y1="913.00" x2="437.05" y2="913.00" stroke="#3a3a3a" stroke-width="0.7" stroke-linecap="butt"/>
<rect x="475.90" y="895.90" width="19.80" height="104.40" fill="#595959" stroke="#3c3c3c" stroke-width="1.1"/>
<line x1="485.80" y1="890.30" x2="485.80" y2="901.50" stroke="#3a3a3a" stroke-width="0.7" stroke-linecap="butt"/>
<line x1="484.70" y1="890.30" x2="486.90" y2="890.30" stroke="#3a3a3a" stroke-width="0.7" stroke-linecap="butt"/>
<line x1="484.70" y1="901.50" x2="486.90" y2="901.50" stroke="#3a3a3a" stroke-width="0.7" stroke-linecap="butt"/>
<rect x="525.75" y="908.60" width="19.80" height="91.70" fill="#595959" stroke="#3c3c3c" stroke-width="1.1"/>
<line x1="535.65" y1="904.20" x2="535.65" y2="913.00" stroke="#3a3a3a" stroke-width="0.7" stroke-linecap="butt"/>
<line x1="534.55" y1="904.20" x2="536.75" y2="904.20" stroke="#3a3a3a" stroke-width="0.7" stroke-linecap="butt"/>
<line x1="534.55" y1="913.00" x2="536.75" y2="913.00" stroke="#3a3a3a" stroke-width="0.7" stroke-linecap="butt"/>
<line x1="61.50" y1="798.40" x2="61.50" y2="1062.90" stroke="#606060" stroke-width="1.2" stroke-linecap="butt"/>
<line x1="57.00" y1="1000.30" x2="560.30" y2="1000.30" stroke="#606060" stroke-width="1.5" stroke-linecap="butt"/>
<text transform="translate(49.70,1005.00) scale(1,1.02)" font-size="13.7" text-anchor="end" fill="#111" stroke="#111" stroke-width="0.2">0</text>
<line x1="57.00" y1="975.06" x2="61.50" y2="975.06" stroke="#606060" stroke-width="1.1" stroke-linecap="butt"/>
<text transform="translate(49.70,979.76) scale(1,1.02)" font-size="13.7" text-anchor="end" fill="#111" stroke="#111" stroke-width="0.2">0.2</text>
<line x1="57.00" y1="949.82" x2="61.50" y2="949.82" stroke="#606060" stroke-width="1.1" stroke-linecap="butt"/>
<text transform="translate(49.70,954.52) scale(1,1.02)" font-size="13.7" text-anchor="end" fill="#111" stroke="#111" stroke-width="0.2">0.4</text>
<line x1="57.00" y1="924.59" x2="61.50" y2="924.59" stroke="#606060" stroke-width="1.1" stroke-linecap="butt"/>
<text transform="translate(49.70,929.29) scale(1,1.02)" font-size="13.7" text-anchor="end" fill="#111" stroke="#111" stroke-width="0.2">0.6</text>
<line x1="57.00" y1="899.35" x2="61.50" y2="899.35" stroke="#606060" stroke-width="1.1" stroke-linecap="butt"/>
<text transform="translate(49.70,904.05) scale(1,1.02)" font-size="13.7" text-anchor="end" fill="#111" stroke="#111" stroke-width="0.2">0.8</text>
<line x1="57.00" y1="874.11" x2="61.50" y2="874.11" stroke="#606060" stroke-width="1.1" stroke-linecap="butt"/>
<text transform="translate(49.70,878.81) scale(1,1.02)" font-size="13.7" text-anchor="end" fill="#111" stroke="#111" stroke-width="0.2">1</text>
<line x1="57.00" y1="848.88" x2="61.50" y2="848.88" stroke="#606060" stroke-width="1.1" stroke-linecap="butt"/>
<text transform="translate(49.70,853.58) scale(1,1.02)" font-size="13.7" text-anchor="end" fill="#111" stroke="#111" stroke-width="0.2">1.2</text>
<line x1="57.00" y1="823.64" x2="61.50" y2="823.64" stroke="#606060" stroke-width="1.1" stroke-linecap="butt"/>
<text transform="translate(49.70,828.34) scale(1,1.02)" font-size="13.7" text-anchor="end" fill="#111" stroke="#111" stroke-width="0.2">1.4</text>
<line x1="57.00" y1="798.40" x2="61.50" y2="798.40" stroke="#606060" stroke-width="1.1" stroke-linecap="butt"/>
<text transform="translate(49.70,803.10) scale(1,1.02)" font-size="13.7" text-anchor="end" fill="#111" stroke="#111" stroke-width="0.2">1.6</text>
<line x1="111.38" y1="1000.30" x2="111.38" y2="1062.90" stroke="#606060" stroke-width="1.2" stroke-linecap="butt"/>
<line x1="161.26" y1="1000.30" x2="161.26" y2="1031.50" stroke="#606060" stroke-width="1.2" stroke-linecap="butt"/>
<line x1="211.14" y1="1000.30" x2="211.14" y2="1031.50" stroke="#606060" stroke-width="1.2" stroke-linecap="butt"/>
<line x1="261.02" y1="1000.30" x2="261.02" y2="1062.90" stroke="#606060" stroke-width="1.2" stroke-linecap="butt"/>
<line x1="310.90" y1="1000.30" x2="310.90" y2="1031.50" stroke="#606060" stroke-width="1.2" stroke-linecap="butt"/>
<line x1="360.78" y1="1000.30" x2="360.78" y2="1031.50" stroke="#606060" stroke-width="1.2" stroke-linecap="butt"/>
<line x1="410.66" y1="1000.30" x2="410.66" y2="1062.90" stroke="#606060" stroke-width="1.2" stroke-linecap="butt"/>
<line x1="460.54" y1="1000.30" x2="460.54" y2="1031.50" stroke="#606060" stroke-width="1.2" stroke-linecap="butt"/>
<line x1="510.42" y1="1000.30" x2="510.42" y2="1031.50" stroke="#606060" stroke-width="1.2" stroke-linecap="butt"/>
<line x1="560.30" y1="1000.30" x2="560.30" y2="1062.90" stroke="#606060" stroke-width="1.2" stroke-linecap="butt"/>
<text transform="translate(86.44,1026.90) scale(1,1.13)" font-size="13.2" text-anchor="middle" fill="#111" stroke="#111" stroke-width="0.2">0 mg</text>
<text transform="translate(136.32,1026.90) scale(1,1.13)" font-size="13.2" text-anchor="middle" fill="#111" stroke="#111" stroke-width="0.2">0.1 mg</text>
<text transform="translate(186.20,1026.90) scale(1,1.13)" font-size="13.2" text-anchor="middle" fill="#111" stroke="#111" stroke-width="0.2">1 mg</text>
<text transform="translate(236.08,1026.90) scale(1,1.13)" font-size="13.2" text-anchor="middle" fill="#111" stroke="#111" stroke-width="0.2">3 mg</text>
<text transform="translate(285.96,1026.90) scale(1,1.13)" font-size="13.2" text-anchor="middle" fill="#111" stroke="#111" stroke-width="0.2">0.1 mg</text>
<text transform="translate(335.84,1026.90) scale(1,1.13)" font-size="13.2" text-anchor="middle" fill="#111" stroke="#111" stroke-width="0.2">1 mg</text>
<text transform="translate(385.72,1026.90) scale(1,1.13)" font-size="13.2" text-anchor="middle" fill="#111" stroke="#111" stroke-width="0.2">3 mg</text>
<text transform="translate(435.60,1026.90) scale(1,1.13)" font-size="13.2" text-anchor="middle" fill="#111" stroke="#111" stroke-width="0.2">0.1 mg</text>
<text transform="translate(485.48,1026.90) scale(1,1.13)" font-size="13.2" text-anchor="middle" fill="#111" stroke="#111" stroke-width="0.2">1 mg</text>
<text transform="translate(535.36,1026.90) scale(1,1.13)" font-size="13.2" text-anchor="middle" fill="#111" stroke="#111" stroke-width="0.2">3 mg</text>
<text transform="translate(86.50,1057.20) scale(1,1.13)" font-size="14.0" text-anchor="middle" fill="#111" stroke="#111" stroke-width="0.15">control</text>
<text transform="translate(186.50,1056.80) scale(1,1.13)" font-size="14.0" text-anchor="middle" fill="#111" stroke="#111" stroke-width="0.15">IBA</text>
<text transform="translate(335.60,1059.50) scale(1,1.13)" font-size="14.0" text-anchor="middle" fill="#111" stroke="#111" stroke-width="0.15">NAA</text>
<text transform="translate(485.50,1056.80) scale(1,1.13)" font-size="14.0" text-anchor="middle" fill="#111" stroke="#111" stroke-width="0.15">IAA</text>
<text transform="translate(313.50,1093.00) scale(1,1.04)" font-size="13.6" text-anchor="middle" font-weight="bold" fill="#111" stroke="#111" stroke-width="0.4">PGRs</text>
<text transform="translate(14.30,899.30) rotate(-90)" font-size="14" text-anchor="middle" font-weight="bold" textLength="90.20" lengthAdjust="spacingAndGlyphs" fill="#111">leaf width [cm]</text>
<text transform="translate(8.80,789.30) scale(1,1.07)" font-size="24" text-anchor="start" font-weight="bold" fill="#000">c.</text>
<line x1="76.90" y1="783.40" x2="257.50" y2="783.40" stroke="#141414" stroke-width="1.8" stroke-linecap="butt"/>
<line x1="129.40" y1="791.40" x2="257.50" y2="791.40" stroke="#141414" stroke-width="1.8" stroke-linecap="butt"/>
<line x1="128.40" y1="800.10" x2="201.50" y2="800.10" stroke="#141414" stroke-width="1.8" stroke-linecap="butt"/>
<line x1="174.90" y1="803.40" x2="257.50" y2="803.40" stroke="#141414" stroke-width="1.8" stroke-linecap="butt"/>
<line x1="75.60" y1="807.40" x2="148.60" y2="807.40" stroke="#141414" stroke-width="1.8" stroke-linecap="butt"/>
<line x1="272.30" y1="875.90" x2="403.20" y2="875.90" stroke="#141414" stroke-width="1.8" stroke-linecap="butt"/>
<line x1="272.30" y1="880.70" x2="348.00" y2="880.70" stroke="#141414" stroke-width="1.8" stroke-linecap="butt"/>
<line x1="325.80" y1="888.70" x2="403.70" y2="888.70" stroke="#141414" stroke-width="1.8" stroke-linecap="butt"/>
<line x1="424.10" y1="865.80" x2="546.50" y2="865.80" stroke="#141414" stroke-width="1.6" stroke-linecap="butt"/>
<line x1="424.10" y1="870.60" x2="496.20" y2="870.60" stroke="#141414" stroke-width="1.6" stroke-linecap="butt"/>
<line x1="479.90" y1="874.10" x2="547.00" y2="874.10" stroke="#141414" stroke-width="1.6" stroke-linecap="butt"/>
<text transform="translate(162.50,783.40)" font-size="9" text-anchor="middle" font-weight="bold" fill="#111" letter-spacing="0.4" stroke="#111" stroke-width="0.25">**</text>
<text transform="translate(184.90,792.20)" font-size="9" text-anchor="middle" font-weight="bold" fill="#111" letter-spacing="0.4" stroke="#111" stroke-width="0.25">*</text>
<text transform="translate(156.70,800.50)" font-size="9" text-anchor="middle" font-weight="bold" fill="#111" letter-spacing="0.4" stroke="#111" stroke-width="0.25">*</text>
<text transform="translate(217.50,802.80)" font-size="9" text-anchor="middle" font-weight="bold" fill="#111" letter-spacing="0.4" stroke="#111" stroke-width="0.25">*</text>
<text transform="translate(334.30,873.20)" font-size="9" text-anchor="middle" font-weight="bold" fill="#111" letter-spacing="0.4" stroke="#111" stroke-width="0.25">*</text>
<text transform="translate(366.70,887.30)" font-size="9" text-anchor="middle" font-weight="bold" fill="#111" letter-spacing="0.4" stroke="#111" stroke-width="0.25">*</text>
<rect x="553.20" y="803.30" width="126.70" height="138.70" fill="#fff" stroke="#222" stroke-width="1.3"/>
<rect x="555.20" y="807.20" width="21.10" height="9.40" rx="0.9" fill="#ffffff" stroke="#1c1c1c" stroke-width="1.45"/>
<text transform="translate(580.50,814.30) scale(1,0.9)" font-size="8.9" text-anchor="start" font-weight="bold" textLength="25.50" lengthAdjust="spacingAndGlyphs" fill="#111" stroke="#111" stroke-width="0.25">Control</text>
<rect x="555.20" y="823.70" width="21.10" height="9.60" rx="0.9" fill="#d9d9d9" stroke="#1c1c1c" stroke-width="1.45"/>
<text transform="translate(581.30,830.70) scale(1,0.9)" font-size="8.9" text-anchor="start" font-weight="bold" textLength="13.30" lengthAdjust="spacingAndGlyphs" fill="#111" stroke="#111" stroke-width="0.25">IBA</text>
<rect x="555.20" y="840.70" width="21.10" height="9.20" rx="0.9" fill="#a6a6a6" stroke="#1c1c1c" stroke-width="1.45"/>
<text transform="translate(580.50,847.70) scale(1,0.9)" font-size="8.9" text-anchor="start" font-weight="bold" textLength="16.40" lengthAdjust="spacingAndGlyphs" fill="#111" stroke="#111" stroke-width="0.25">NAA</text>
<rect x="555.20" y="857.00" width="21.10" height="9.60" rx="0.9" fill="#595959" stroke="#1c1c1c" stroke-width="1.45"/>
<text transform="translate(580.90,864.40) scale(1,0.9)" font-size="8.9" text-anchor="start" font-weight="bold" textLength="13.80" lengthAdjust="spacingAndGlyphs" fill="#111" stroke="#111" stroke-width="0.25">IAA</text>
<line x1="565.40" y1="873.50" x2="565.40" y2="883.70" stroke="#1a1a1a" stroke-width="1.3" stroke-linecap="butt"/>
<line x1="563.10" y1="873.50" x2="567.70" y2="873.50" stroke="#1a1a1a" stroke-width="1.2" stroke-linecap="butt"/>
<line x1="563.10" y1="883.70" x2="567.70" y2="883.70" stroke="#1a1a1a" stroke-width="1.2" stroke-linecap="butt"/>
<text transform="translate(580.50,881.00) scale(1,0.9)" font-size="9.200000000000001" text-anchor="start" font-weight="bold" textLength="70.80" lengthAdjust="spacingAndGlyphs" fill="#111" stroke="#111" stroke-width="0.3">Error Bar (Std. Dev.)</text>
<line x1="556.90" y1="895.20" x2="573.60" y2="895.20" stroke="#111" stroke-width="1.35" stroke-linecap="butt"/>
<text transform="translate(580.50,896.80)" font-size="7.0" text-anchor="start" font-weight="bold" textLength="95.30" lengthAdjust="spacingAndGlyphs" fill="#111" stroke="#111" stroke-width="0.3">Non-significant difference at P&lt;0.05</text>
<line x1="556.90" y1="913.00" x2="573.60" y2="913.00" stroke="#111" stroke-width="1.35" stroke-linecap="butt"/>
<text transform="translate(580.50,914.70)" font-size="7.0" text-anchor="start" font-weight="bold" textLength="86.70" lengthAdjust="spacingAndGlyphs" fill="#111" stroke="#111" stroke-width="0.3">Singnificant difference at P&lt;0.05</text>
<line x1="556.90" y1="932.00" x2="573.60" y2="932.00" stroke="#111" stroke-width="1.35" stroke-linecap="butt"/>
<text transform="translate(580.50,933.10)" font-size="7.0" text-anchor="start" font-weight="bold" textLength="83.00" lengthAdjust="spacingAndGlyphs" fill="#111" stroke="#111" stroke-width="0.3">Significant difference at P&lt;0.01</text>
<text transform="translate(564.50,912.40)" font-size="8.6" text-anchor="middle" font-weight="bold" fill="#222">*</text>
<text transform="translate(564.80,930.80)" font-size="8.6" text-anchor="middle" font-weight="bold" fill="#222">**</text>
</g>
</svg></body></html>
